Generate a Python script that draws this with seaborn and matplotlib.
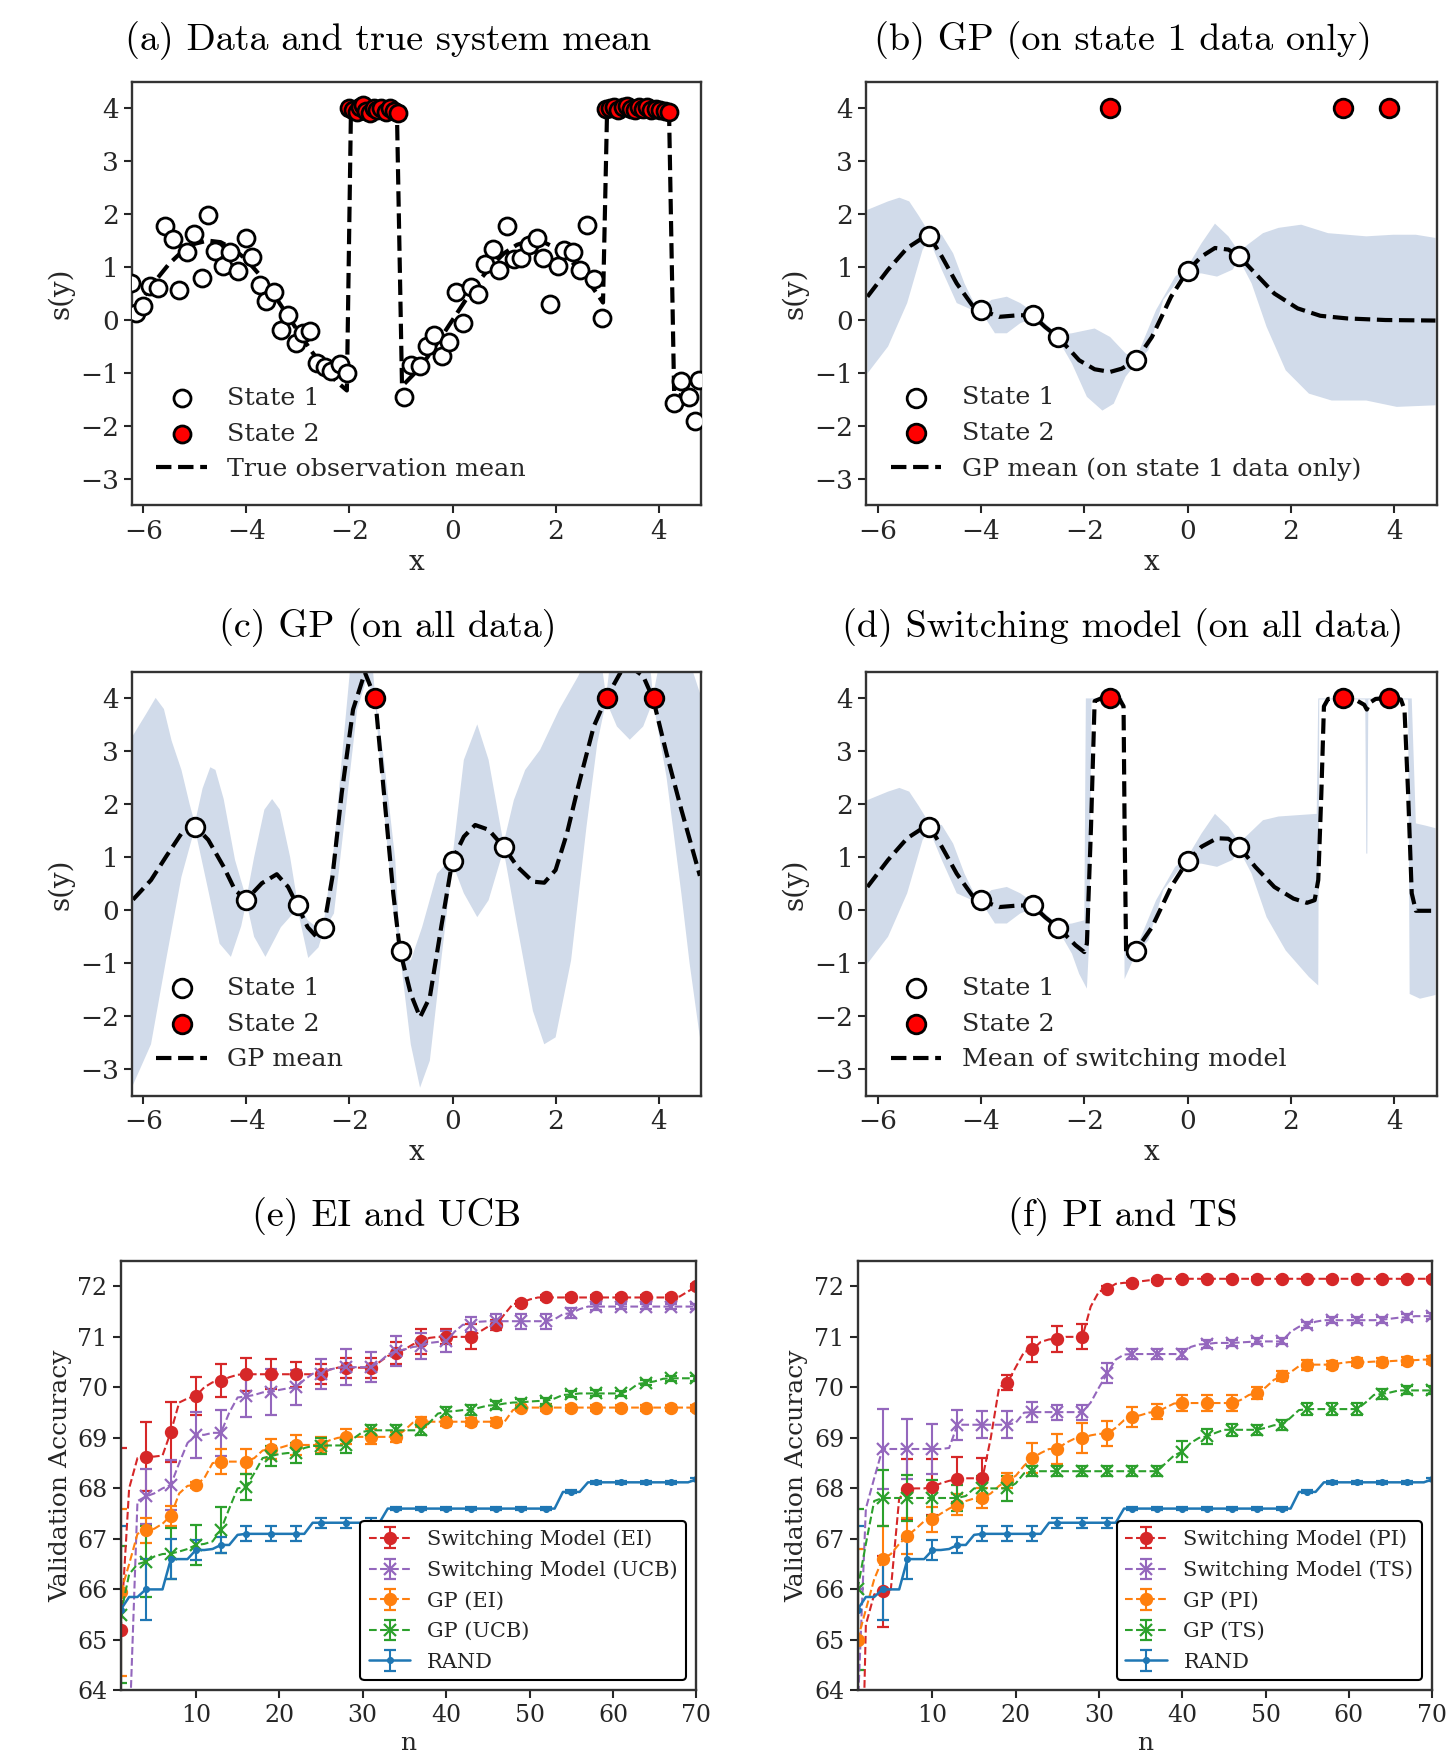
import numpy as np
import seaborn as sns
import matplotlib.pyplot as plt

sns.set_theme(style="ticks")
plt.rcParams["font.family"] = ["DejaVu Serif"]
plt.rcParams["axes.edgecolor"] = ".15"
plt.rcParams["axes.linewidth"] = 1.5

# ---------------- data: panel (a) ----------------
a_s1_x = [-6.24, -6.15, -6.0, -5.87, -5.72, -5.57, -5.43, -5.31, -5.16, -5.01,
          -4.87, -4.74, -4.61, -4.46, -4.31, -4.16, -4.01, -3.89, -3.74, -3.61,
          -3.46, -3.33, -3.19, -3.04, -2.9, -2.76, -2.63, -2.48, -2.35, -2.19,
          -2.04, -0.94, -0.81, -0.64, -0.5, -0.35, -0.21, -0.07, 0.06, 0.21,
          0.36, 0.5, 0.63, 0.78, 0.91, 1.05, 1.19, 1.33, 1.48, 1.63,
          1.76, 1.9, 2.04, 2.17, 2.33, 2.47, 2.61, 2.74, 2.9, 4.3,
          4.44, 4.59, 4.7, 4.78]
a_s1_y = [0.7, 0.13, 0.26, 0.64, 0.61, 1.77, 1.53, 0.56, 1.28, 1.63,
          0.8, 1.99, 1.3, 1.02, 1.28, 0.92, 1.55, 1.19, 0.67, 0.35,
          0.52, -0.18, 0.1, -0.44, -0.25, -0.2, -0.81, -0.88, -0.97, -0.83,
          -1.0, -1.46, -0.85, -0.86, -0.49, -0.28, -0.67, -0.42, 0.52, -0.06,
          0.62, 0.49, 1.05, 1.34, 0.95, 1.77, 1.15, 1.17, 1.41, 1.55,
          1.17, 0.3, 1.02, 1.32, 1.28, 0.95, 1.79, 0.78, 0.04, -1.56,
          -1.16, -1.46, -1.9, -1.13]
a_s2_x = [-2.0, -1.93, -1.86, -1.8, -1.74, -1.67, -1.6, -1.53, -1.46, -1.38,
          -1.3, -1.22, -1.13, -1.05, 2.97, 3.05, 3.13, 3.21, 3.3, 3.38,
          3.46, 3.54, 3.62, 3.7, 3.78, 3.86, 3.95, 4.03, 4.12, 4.2]
a_s2_y = [4.0, 3.97, 3.93, 4.02, 4.06, 3.95, 3.9, 4.0, 3.96, 4.01,
          3.92, 4.0, 3.95, 3.9, 3.98, 4.0, 4.03, 3.97, 4.02, 4.04,
          3.98, 3.96, 4.02, 3.99, 4.03, 3.97, 3.99, 3.96, 3.95, 3.93]
a_mean_x = [-6.2, -6.0, -5.75, -5.5, -5.25, -5.0, -4.75, -4.5, -4.25, -4.0,
            -3.75, -3.5, -3.25, -3.0, -2.75, -2.5, -2.25, -2.05, -1.97, -1.08,
            -0.98, -0.75, -0.5, -0.25, 0.0, 0.25, 0.5, 0.75, 1.0, 1.25,
            1.5, 1.75, 2.0, 2.25, 2.5, 2.75, 2.92, 3.0, 4.2, 4.3,
            4.5, 4.8]
a_mean_y = [0.12, 0.42, 0.76, 1.06, 1.29, 1.44, 1.5, 1.47, 1.34, 1.14,
            0.86, 0.53, 0.16, -0.21, -0.57, -0.9, -1.16, -1.33, 4.0, 4.0,
            -1.25, -1.02, -0.72, -0.37, 0.0, 0.37, 0.72, 1.02, 1.26, 1.42,
            1.5, 1.48, 1.36, 1.17, 0.9, 0.57, 0.33, 4.0, 4.0, -1.38,
            -1.46, -1.49]

# ---------------- data: panels (b)-(d) ----------------
obs1_x = [-5.0, -4.0, -3.0, -2.5, -1.0, 0.0, 1.0]
obs1_y = [1.58, 0.19, 0.09, -0.33, -0.76, 0.93, 1.2]
obs2_x = [-1.5, 3.0, 3.9]
obs2_y = [4.0, 4.0, 4.0]

b_mean_x = [-6.2, -5.8, -5.43, -5.13, -5.0, -4.76, -4.47, -4.17, -4.0, -3.65,
            -3.28, -3.0, -2.76, -2.5, -2.1, -1.8, -1.5, -1.28, -1.0, -0.69,
            -0.32, 0.0, 0.27, 0.53, 0.79, 1.0, 1.31, 1.68, 2.13, 2.57,
            3.09, 3.83, 4.8]
b_mean_y = [0.44, 0.95, 1.36, 1.55, 1.58, 1.2, 0.69, 0.28, 0.19, 0.06,
            0.09, 0.09, -0.13, -0.33, -0.76, -0.93, -0.98, -0.92, -0.76, -0.32,
            0.44, 0.93, 1.2, 1.36, 1.33, 1.2, 0.88, 0.5, 0.22, 0.08,
            0.03, 0.0, -0.01]
b_up_x = [-6.2, -5.8, -5.58, -5.39, -5.2, -5.0, -4.76, -4.54, -4.32, -4.1,
          -4.0, -3.8, -3.5, -3.24, -3.0, -2.76, -2.5, -2.24, -1.8, -1.5,
          -1.2, -1.0, -0.61, -0.24, 0.0, 0.27, 0.53, 0.79, 1.0, 1.16,
          1.46, 1.76, 2.2, 2.72, 3.46, 3.98, 4.42, 4.8]
b_up_y = [2.08, 2.24, 2.31, 2.24, 1.96, 1.64, 1.61, 1.26, 0.69, 0.25,
          0.22, 0.38, 0.44, 0.32, 0.16, -0.06, -0.28, -0.25, -0.16, -0.32,
          -0.63, -0.73, 0.19, 0.82, 1.01, 1.45, 1.82, 1.58, 1.28, 1.42,
          1.64, 1.74, 1.8, 1.64, 1.58, 1.61, 1.61, 1.55]
b_lo_x = [-6.2, -5.8, -5.43, -5.13, -5.0, -4.76, -4.47, -4.17, -4.0, -3.73,
          -3.5, -3.24, -3.0, -2.76, -2.5, -2.24, -1.95, -1.65, -1.43, -1.2,
          -1.0, -0.76, -0.47, -0.17, 0.0, 0.27, 0.57, 0.87, 1.0, 1.24,
          1.53, 1.9, 2.35, 2.79, 3.46, 4.05, 4.8]
b_lo_y = [-1.01, -0.5, 0.32, 1.33, 1.52, 0.95, 0.32, 0.19, 0.16, -0.25,
          -0.25, -0.06, 0.03, -0.19, -0.38, -0.82, -1.45, -1.71, -1.58, -1.07,
          -0.82, -0.57, 0.38, 0.76, 0.88, 0.88, 0.82, 0.95, 1.14, 0.69,
          -0.13, -0.95, -1.39, -1.52, -1.52, -1.64, -1.61]

c_mean_x = [-6.2, -5.85, -5.56, -5.26, -5.0, -4.74, -4.44, -4.22, -4.0, -3.7,
            -3.41, -3.19, -3.01, -2.81, -2.63, -2.5, -2.33, -2.15, -1.93, -1.7,
            -1.5, -1.33, -1.15, -1.02, -0.81, -0.63, -0.44, -0.22, 0.0, 0.22,
            0.44, 0.7, 0.99, 1.26, 1.56, 1.78, 2.0, 2.22, 2.44, 2.74,
            2.98, 3.26, 3.48, 3.7, 3.89, 4.15, 4.44, 4.8]
c_mean_y = [0.2, 0.57, 1.01, 1.45, 1.59, 1.33, 0.82, 0.38, 0.2, 0.51,
            0.68, 0.44, 0.09, -0.32, -0.51, -0.33, 0.63, 2.21, 3.79, 4.49,
            4.0, 2.21, 0.32, -0.76, -1.58, -2.02, -1.64, -0.32, 0.95, 1.39,
            1.61, 1.52, 1.2, 0.82, 0.54, 0.52, 0.76, 1.45, 2.34, 3.47,
            4.0, 4.49, 4.58, 4.42, 4.0, 2.97, 1.9, 0.65]
c_up_x = [-6.2, -5.93, -5.76, -5.6, -5.45, -5.26, -5.1, -5.0, -4.85, -4.7,
          -4.6, -4.44, -4.22, -4.0, -3.85, -3.65, -3.5, -3.35, -3.15, -3.01,
          -2.81, -2.63, -2.5, -2.3, -2.15, -2.0, -1.9, -1.7, -1.55, -1.5,
          -1.33, -1.11, -1.02, -0.81, -0.59, -0.3, 0.0, 0.22, 0.48, 0.7,
          0.99, 1.19, 1.41, 1.7, 2.07, 2.44, 2.7, 2.9, 2.98, 3.1,
          3.5, 3.8, 3.89, 4.0, 4.67, 4.8]
c_up_y = [3.3, 3.73, 4.01, 3.8, 3.2, 2.65, 2.0, 1.64, 2.3, 2.7,
          2.65, 2.1, 0.95, 0.22, 1.0, 1.9, 2.1, 1.9, 1.0, 0.16,
          -0.19, -0.32, -0.25, 1.2, 2.84, 4.42, 5.5, 5.5, 4.6, 4.04,
          2.84, 0.95, -0.69, -0.95, -0.32, 0.69, 1.01, 2.84, 3.51, 2.84,
          1.26, 2.08, 2.65, 3.03, 3.79, 4.42, 5.0, 4.6, 4.04, 5.0,
          5.5, 5.0, 4.04, 4.6, 4.49, 4.1]
c_lo_x = [-6.2, -5.85, -5.56, -5.26, -5.0, -4.74, -4.52, -4.3, -4.1, -4.0,
          -3.85, -3.63, -3.33, -3.01, -2.8, -2.6, -2.5, -2.3, -2.07, -1.85,
          -1.67, -1.5, -1.33, -1.15, -1.02, -0.81, -0.63, -0.44, -0.22, 0.0,
          0.22, 0.48, 0.7, 0.99, 1.26, 1.56, 1.78, 2.0, 2.3, 2.6,
          2.81, 2.98, 3.19, 3.44, 3.7, 3.89, 4.15, 4.44, 4.6, 4.8]
c_lo_y = [-3.3, -2.53, -0.95, 0.63, 1.55, 0.38, -0.63, -0.88, -0.3, 0.16,
          -0.5, -0.88, -0.32, 0.03, -0.9, -0.7, -0.38, -0.06, 1.9, 3.79,
          4.36, 3.95, 1.9, 0.0, -0.82, -2.53, -3.35, -2.84, -0.95, 0.88,
          0.32, -0.13, 0.19, 1.14, -0.32, -1.9, -2.53, -2.4, -0.95, 1.58,
          3.16, 3.95, 3.47, 3.22, 3.47, 3.95, 2.53, 0.32, -1.0, -2.4]

d_mean_x = [-6.2, -5.8, -5.43, -5.13, -5.0, -4.76, -4.47, -4.17, -4.0, -3.65,
            -3.28, -3.0, -2.76, -2.5, -2.17, -2.0, -1.95, -1.87, -1.8, -1.65,
            -1.5, -1.32, -1.24, -1.22, -1.19, -1.0, -0.69, -0.32, 0.0, 0.27,
            0.57, 0.79, 1.0, 1.31, 1.68, 2.05, 2.31, 2.46, 2.53, 2.59,
            2.64, 2.72, 3.0, 3.24, 3.42, 3.47, 3.53, 3.64, 3.89, 4.13,
            4.2, 4.27, 4.34, 4.42, 4.8]
d_mean_y = [0.44, 0.95, 1.36, 1.55, 1.58, 1.2, 0.69, 0.28, 0.19, 0.06,
            0.09, 0.09, -0.13, -0.33, -0.66, -0.79, -0.63, 1.58, 3.95, 4.01,
            4.0, 3.99, 3.85, 1.58, -0.88, -0.76, -0.32, 0.44, 0.93, 1.2,
            1.36, 1.35, 1.2, 0.82, 0.44, 0.22, 0.14, 0.19, 0.57, 2.21,
            3.85, 3.99, 4.01, 3.98, 3.88, 3.79, 3.92, 3.99, 4.01, 3.98,
            3.79, 2.21, 0.32, -0.01, -0.01]
d_up_x = [-6.2, -5.8, -5.58, -5.39, -5.2, -5.0, -4.76, -4.54, -4.32, -4.1,
          -4.0, -3.8, -3.5, -3.24, -3.0, -2.76, -2.5, -2.24, -2.0, -1.97,
          -1.25, -1.22, -1.0, -0.61, -0.24, 0.0, 0.27, 0.53, 0.79, 1.0,
          1.16, 1.46, 1.76, 2.2, 2.5, 2.53, 4.34, 4.42, 4.6, 4.8]
d_up_y = [2.08, 2.24, 2.31, 2.24, 1.96, 1.64, 1.61, 1.26, 0.69, 0.25,
          0.22, 0.38, 0.44, 0.32, 0.16, -0.06, -0.28, -0.25, -0.19, 4.0,
          4.0, -0.68, -0.73, 0.19, 0.82, 1.01, 1.45, 1.82, 1.58, 1.28,
          1.42, 1.7, 1.77, 1.8, 1.82, 4.0, 4.0, 1.64, 1.6, 1.55]
d_lo_x = [-6.2, -5.8, -5.43, -5.13, -5.0, -4.76, -4.47, -4.17, -4.0, -3.73,
          -3.5, -3.24, -3.0, -2.76, -2.5, -2.24, -2.1, -1.95, -1.9, -1.86,
          -1.25, -1.22, -1.0, -0.76, -0.47, -0.17, 0.0, 0.27, 0.57, 0.87,
          1.0, 1.24, 1.53, 1.9, 2.35, 2.53, 2.55, 3.44, 3.46, 3.48,
          3.5, 4.27, 4.3, 4.5, 4.8]
d_lo_y = [-1.01, -0.5, 0.32, 1.33, 1.52, 0.95, 0.32, 0.19, 0.16, -0.25,
          -0.25, -0.06, 0.03, -0.19, -0.38, -0.82, -1.2, -1.48, -0.5, 3.98,
          3.98, -1.3, -0.82, -0.57, 0.38, 0.76, 0.88, 0.88, 0.82, 0.95,
          1.14, 0.69, -0.13, -0.76, -1.26, -1.42, 3.98, 3.98, 1.07, 1.07,
          3.98, 3.98, -1.58, -1.67, -1.6]

# ---------------- data: panels (e) and (f) ----------------
n_iter = list(range(1, 71))

rand = [65.6, 65.85, 65.85, 66.0, 66.0, 66.0, 66.6, 66.6, 66.6, 66.78,
        66.78, 66.8, 66.88, 66.88, 67.08, 67.1, 67.1, 67.1, 67.1, 67.1,
        67.1, 67.1, 67.1, 67.32, 67.32, 67.32, 67.32, 67.32, 67.32, 67.32,
        67.32, 67.32, 67.6, 67.6, 67.6, 67.6, 67.6, 67.6, 67.6, 67.6,
        67.6, 67.6, 67.6, 67.6, 67.6, 67.6, 67.6, 67.6, 67.6, 67.6,
        67.6, 67.6, 67.6, 67.93, 67.93, 67.93, 68.12, 68.12, 68.12, 68.12,
        68.12, 68.12, 68.12, 68.12, 68.12, 68.12, 68.12, 68.12, 68.12, 68.18]
rand_err = [1.65, 0.6, 0.4, 0.2, 0.15, 0.15, 0.15, 0.15, 0.1, 0.1,
            0.1, 0.03, 0.03, 0.03, 0.03, 0.03, 0.03, 0.03, 0.03, 0.03,
            0.03, 0.03, 0.03, 0.03]

sm_ei = [65.2, 68.0, 68.6, 68.63, 68.63, 68.65, 69.12, 69.7, 69.78, 69.83,
         70.0, 70.1, 70.13, 70.2, 70.25, 70.26, 70.26, 70.26, 70.26, 70.26,
         70.26, 70.26, 70.26, 70.26, 70.26, 70.35, 70.39, 70.39, 70.39, 70.39,
         70.39, 70.5, 70.62, 70.68, 70.75, 70.85, 70.91, 70.98, 71.0, 71.0,
         71.0, 71.0, 71.0, 71.1, 71.2, 71.24, 71.45, 71.65, 71.67, 71.74,
         71.78, 71.78, 71.78, 71.78, 71.78, 71.78, 71.78, 71.78, 71.78, 71.78,
         71.78, 71.78, 71.78, 71.78, 71.78, 71.78, 71.78, 71.8, 71.9, 72.0]
sm_ei_err = [3.6, 0.68, 0.6, 0.38, 0.33, 0.33, 0.3, 0.25, 0.2, 0.2,
             0.2, 0.22, 0.25, 0.15, 0.25, 0.1, 0.05, 0.05, 0.04, 0.04,
             0.04, 0.04, 0.04, 0.05]
sm_ucb = [56.0, 63.0, 67.75, 67.84, 67.9, 68.0, 68.07, 68.5, 68.9, 69.06,
          69.06, 69.1, 69.1, 69.5, 69.8, 69.82, 69.85, 69.9, 69.91, 69.95,
          69.98, 70.0, 70.15, 70.27, 70.27, 70.35, 70.39, 70.4, 70.4, 70.4,
          70.4, 70.5, 70.65, 70.72, 70.75, 70.8, 70.82, 70.88, 70.9, 70.91,
          71.1, 71.24, 71.24, 71.3, 71.31, 71.31, 71.31, 71.31, 71.31, 71.31,
          71.31, 71.31, 71.35, 71.45, 71.47, 71.55, 71.6, 71.6, 71.6, 71.6,
          71.6, 71.6, 71.6, 71.6, 71.6, 71.6, 71.6, 71.6, 71.6, 71.6]
sm_ucb_err = [6.0, 0.55, 0.5, 0.45, 0.45, 0.4, 0.45, 0.35, 0.3, 0.35,
              0.3, 0.3, 0.25, 0.2, 0.15, 0.15, 0.15, 0.15, 0.1, 0.06,
              0.05, 0.05, 0.05, 0.05]
gp_ei = [65.94, 66.5, 67.1, 67.17, 67.2, 67.3, 67.46, 67.9, 68.05, 68.07,
         68.2, 68.5, 68.53, 68.53, 68.53, 68.53, 68.6, 68.75, 68.78, 68.8,
         68.85, 68.86, 68.86, 68.86, 68.86, 68.95, 69.0, 69.02, 69.02, 69.02,
         69.02, 69.02, 69.02, 69.02, 69.15, 69.3, 69.32, 69.32, 69.32, 69.32,
         69.32, 69.32, 69.32, 69.32, 69.32, 69.32, 69.32, 69.55, 69.6, 69.6,
         69.6, 69.6, 69.6, 69.6, 69.6, 69.6, 69.6, 69.6, 69.6, 69.6,
         69.6, 69.6, 69.6, 69.6, 69.6, 69.6, 69.6, 69.6, 69.6, 69.6]
gp_ei_err = [1.65, 0.25, 0.2, 0.06, 0.25, 0.25, 0.2, 0.2, 0.15, 0.15,
             0.15, 0.1, 0.1, 0.08, 0.08, 0.08, 0.06, 0.06, 0.06, 0.06,
             0.06, 0.06, 0.06, 0.06]
gp_ucb = [65.5, 66.3, 66.5, 66.55, 66.65, 66.7, 66.71, 66.75, 66.8, 66.88,
          66.9, 66.95, 67.18, 67.6, 68.0, 68.03, 68.3, 68.6, 68.64, 68.68,
          68.7, 68.7, 68.8, 68.84, 68.84, 68.85, 68.85, 68.85, 69.0, 69.12,
          69.15, 69.15, 69.15, 69.15, 69.15, 69.15, 69.15, 69.3, 69.48, 69.52,
          69.53, 69.55, 69.55, 69.6, 69.64, 69.65, 69.68, 69.7, 69.7, 69.72,
          69.73, 69.73, 69.78, 69.85, 69.86, 69.88, 69.88, 69.88, 69.88, 69.88,
          69.88, 69.95, 70.07, 70.09, 70.12, 70.17, 70.18, 70.18, 70.18, 70.18]
gp_ucb_err = [1.35, 0.7, 0.5, 0.4, 0.45, 0.25, 0.2, 0.2, 0.15, 0.15,
              0.1, 0.1, 0.1, 0.1, 0.1, 0.08, 0.06, 0.06, 0.06, 0.06,
              0.05, 0.05, 0.05, 0.05]

sm_pi = [58.0, 65.3, 65.9, 65.96, 66.0, 67.8, 67.99, 68.0, 68.0, 68.03,
         68.1, 68.15, 68.18, 68.2, 68.2, 68.2, 69.0, 70.0, 70.09, 70.4,
         70.7, 70.75, 70.9, 70.95, 70.96, 71.0, 71.0, 71.0, 71.6, 71.9,
         71.95, 72.05, 72.07, 72.07, 72.1, 72.12, 72.12, 72.15, 72.15, 72.15,
         72.15, 72.15, 72.15, 72.15, 72.15, 72.15, 72.15, 72.15, 72.15, 72.15,
         72.15, 72.15, 72.15, 72.15, 72.15, 72.15, 72.15, 72.15, 72.15, 72.15,
         72.15, 72.15, 72.15, 72.15, 72.15, 72.15, 72.15, 72.15, 72.15, 72.15]
sm_pi_err = [4.0, 0.7, 0.6, 0.55, 0.45, 0.4, 0.15, 0.25, 0.25, 0.25,
             0.05, 0.04, 0.03, 0.03, 0.03, 0.03, 0.03, 0.03, 0.03, 0.03,
             0.03, 0.03, 0.03, 0.03]
sm_ts = [63.5, 67.6, 68.2, 68.78, 68.78, 68.78, 68.78, 68.78, 68.78, 68.78,
         68.78, 68.8, 69.26, 69.26, 69.26, 69.26, 69.26, 69.26, 69.26, 69.3,
         69.5, 69.51, 69.51, 69.51, 69.51, 69.51, 69.51, 69.51, 69.7, 70.0,
         70.28, 70.55, 70.65, 70.66, 70.66, 70.66, 70.66, 70.66, 70.66, 70.66,
         70.8, 70.85, 70.86, 70.88, 70.88, 70.88, 70.89, 70.9, 70.91, 70.91,
         70.91, 70.91, 71.1, 71.2, 71.24, 71.3, 71.33, 71.33, 71.33, 71.33,
         71.33, 71.33, 71.33, 71.34, 71.36, 71.38, 71.39, 71.41, 71.41, 71.41]
sm_ts_err = [2.5, 0.8, 0.6, 0.5, 0.3, 0.27, 0.27, 0.2, 0.15, 0.15,
             0.2, 0.1, 0.1, 0.1, 0.08, 0.06, 0.06, 0.06, 0.06, 0.06,
             0.06, 0.06, 0.06, 0.06]
gp_pi = [65.0, 65.6, 66.2, 66.6, 66.7, 66.9, 67.06, 67.2, 67.35, 67.39,
         67.5, 67.6, 67.68, 67.75, 67.8, 67.81, 67.9, 68.05, 68.16, 68.25,
         68.45, 68.6, 68.7, 68.78, 68.78, 68.9, 68.98, 69.0, 69.05, 69.08,
         69.08, 69.2, 69.35, 69.41, 69.45, 69.5, 69.52, 69.6, 69.68, 69.69,
         69.69, 69.69, 69.69, 69.69, 69.69, 69.69, 69.75, 69.85, 69.89, 70.0,
         70.15, 70.22, 70.3, 70.42, 70.45, 70.45, 70.45, 70.45, 70.48, 70.5,
         70.5, 70.5, 70.51, 70.51, 70.52, 70.53, 70.53, 70.54, 70.55, 70.55]
gp_pi_err = [1.8, 0.65, 0.35, 0.25, 0.2, 0.2, 0.15, 0.3, 0.3, 0.3,
             0.25, 0.2, 0.15, 0.15, 0.15, 0.15, 0.12, 0.1, 0.1, 0.08,
             0.08, 0.08, 0.08, 0.08]
gp_ts = [66.0, 66.9, 67.75, 67.81, 67.81, 67.81, 67.81, 67.81, 67.81, 67.81,
         67.81, 67.81, 67.81, 67.85, 68.0, 68.0, 68.0, 68.0, 68.0, 68.1,
         68.3, 68.34, 68.34, 68.34, 68.34, 68.34, 68.34, 68.34, 68.34, 68.34,
         68.34, 68.34, 68.34, 68.34, 68.34, 68.34, 68.34, 68.5, 68.65, 68.73,
         68.9, 69.0, 69.03, 69.1, 69.16, 69.16, 69.16, 69.16, 69.16, 69.2,
         69.25, 69.26, 69.4, 69.55, 69.57, 69.57, 69.57, 69.57, 69.57, 69.57,
         69.57, 69.7, 69.85, 69.87, 69.9, 69.94, 69.94, 69.94, 69.94, 69.94]
gp_ts_err = [1.6, 0.55, 0.45, 0.35, 0.25, 0.25, 0.25, 0.1, 0.1, 0.1,
             0.1, 0.1, 0.1, 0.2, 0.15, 0.12, 0.1, 0.1, 0.12, 0.12,
             0.12, 0.1, 0.08, 0.08]

BAND = "#d1dbea"
TITLE_FONT = "cmr10"
TITLE_SIZE = 27.5


def style_axes(ax, tick_size):
    ax.tick_params(axis="both", labelsize=tick_size, length=6, width=1.5,
                   colors=".15", direction="out")
    for sp in ax.spines.values():
        sp.set_visible(True)
        sp.set_linewidth(1.7)
        sp.set_color(".2")


def state_panel(ax, title, mean_x, mean_y, mean_label, band=None,
                s1=(obs1_x, obs1_y), s2=(obs2_x, obs2_y), size=180, pad=25):
    if band is not None:
        ux, uy, lx, ly = band
        ax.fill(list(ux) + list(lx)[::-1], list(uy) + list(ly)[::-1],
                color=BAND, lw=0, zorder=1)
    sns.lineplot(x=mean_x, y=mean_y, ax=ax, sort=False, estimator=None,
                 color="black", linestyle="--", linewidth=3, zorder=2,
                 label=mean_label)
    sns.scatterplot(x=s1[0], y=s1[1], ax=ax, color="white", edgecolor="black",
                    linewidth=2, s=size, zorder=3, label="State 1")
    sns.scatterplot(x=s2[0], y=s2[1], ax=ax, color="red", edgecolor="black",
                    linewidth=2, s=size, zorder=3, label="State 2")
    h, l = ax.get_legend_handles_labels()
    order = [1, 2, 0]
    ax.legend([h[i] for i in order], [l[i] for i in order], loc="lower left",
              frameon=False, fontsize=18.3, handlelength=2.0,
              borderaxespad=0.55, labelspacing=0.5)
    ax.set_xlim(-6.22, 4.82)
    ax.set_ylim(-3.5, 4.5)
    ax.set_xticks([-6, -4, -2, 0, 2, 4])
    ax.set_yticks([-3, -2, -1, 0, 1, 2, 3, 4])
    ax.set_xlabel("x", fontsize=20, color=".15")
    ax.set_ylabel("s(y)", fontsize=20, color=".15")
    # captions sit a little left of the axes centre, as in the source figure
    ax.set_title(title, fontsize=TITLE_SIZE, family=TITLE_FONT, pad=pad,
                 color="black", x=0.45)
    style_axes(ax, 19)


def bo_panel(ax, title, series):
    n = np.array(n_iter)
    for vals, errs, color, marker, ls, label in series:
        yerr = np.zeros(len(n))
        yerr[::3] = errs
        ms = 7 if marker == "." else 8
        ax.errorbar(n, vals, yerr=yerr, errorevery=3, markevery=3,
                    color=color, marker=marker, markersize=ms, mew=1.6,
                    linestyle=ls, linewidth=1.8 if ls == "-" else 1.5,
                    capsize=4, capthick=1.3, elinewidth=1.5, label=label)
    ax.set_xlim(1, 70)
    ax.set_ylim(64, 72.5)
    ax.set_xticks([10, 20, 30, 40, 50, 60, 70])
    ax.set_yticks(list(range(64, 73)))
    ax.set_xlabel("n", fontsize=18, color=".15")
    ax.set_ylabel("Validation Accuracy", fontsize=18, color=".15")
    ax.set_title(title, fontsize=TITLE_SIZE, family=TITLE_FONT, pad=25.5,
                 color="black", x=0.462)
    leg = ax.legend(loc="lower right", fontsize=15, frameon=True,
                    fancybox=True, framealpha=1, borderaxespad=0.5,
                    labelspacing=0.55)
    leg.get_frame().set_edgecolor("black")
    leg.get_frame().set_linewidth(1.5)
    style_axes(ax, 17)


fig = plt.figure(figsize=(14.5, 17.53), dpi=100)

ax_a = fig.add_axes([0.0910, 0.7117, 0.3924, 0.2417])
ax_b = fig.add_axes([0.5975, 0.7117, 0.3932, 0.2417])
ax_c = fig.add_axes([0.0910, 0.3750, 0.3924, 0.2417])
ax_d = fig.add_axes([0.5975, 0.3750, 0.3932, 0.2417])
ax_e = fig.add_axes([0.0833, 0.0357, 0.3970, 0.2449])
ax_f = fig.add_axes([0.5914, 0.0357, 0.3963, 0.2449])

state_panel(ax_a, "(a) Data and true system mean", a_mean_x, a_mean_y,
            "True observation mean", band=None,
            s1=(a_s1_x, a_s1_y), s2=(a_s2_x, a_s2_y), size=150, pad=23)
state_panel(ax_b, "(b) GP (on state 1 data only)", b_mean_x, b_mean_y,
            "GP mean (on state 1 data only)",
            band=(b_up_x, b_up_y, b_lo_x, b_lo_y), pad=23)
state_panel(ax_c, "(c) GP (on all data)", c_mean_x, c_mean_y, "GP mean",
            band=(c_up_x, c_up_y, c_lo_x, c_lo_y))
state_panel(ax_d, "(d) Switching model (on all data)", d_mean_x, d_mean_y,
            "Mean of switching model",
            band=(d_up_x, d_up_y, d_lo_x, d_lo_y))

RED, PURPLE, ORANGE, GREEN, BLUE = "#d62728", "#9467bd", "#ff7f0e", "#2ca02c", "#1f77b4"

bo_panel(ax_e, "(e) EI and UCB", [
    (sm_ei, sm_ei_err, RED, "o", "--", "Switching Model (EI)"),
    (sm_ucb, sm_ucb_err, PURPLE, "x", "--", "Switching Model (UCB)"),
    (gp_ei, gp_ei_err, ORANGE, "o", "--", "GP (EI)"),
    (gp_ucb, gp_ucb_err, GREEN, "x", "--", "GP (UCB)"),
    (rand, rand_err, BLUE, ".", "-", "RAND"),
])
bo_panel(ax_f, "(f) PI and TS", [
    (sm_pi, sm_pi_err, RED, "o", "--", "Switching Model (PI)"),
    (sm_ts, sm_ts_err, PURPLE, "x", "--", "Switching Model (TS)"),
    (gp_pi, gp_pi_err, ORANGE, "o", "--", "GP (PI)"),
    (gp_ts, gp_ts_err, GREEN, "x", "--", "GP (TS)"),
    (rand, rand_err, BLUE, ".", "-", "RAND"),
])

fig.savefig("out.png", dpi=100)
